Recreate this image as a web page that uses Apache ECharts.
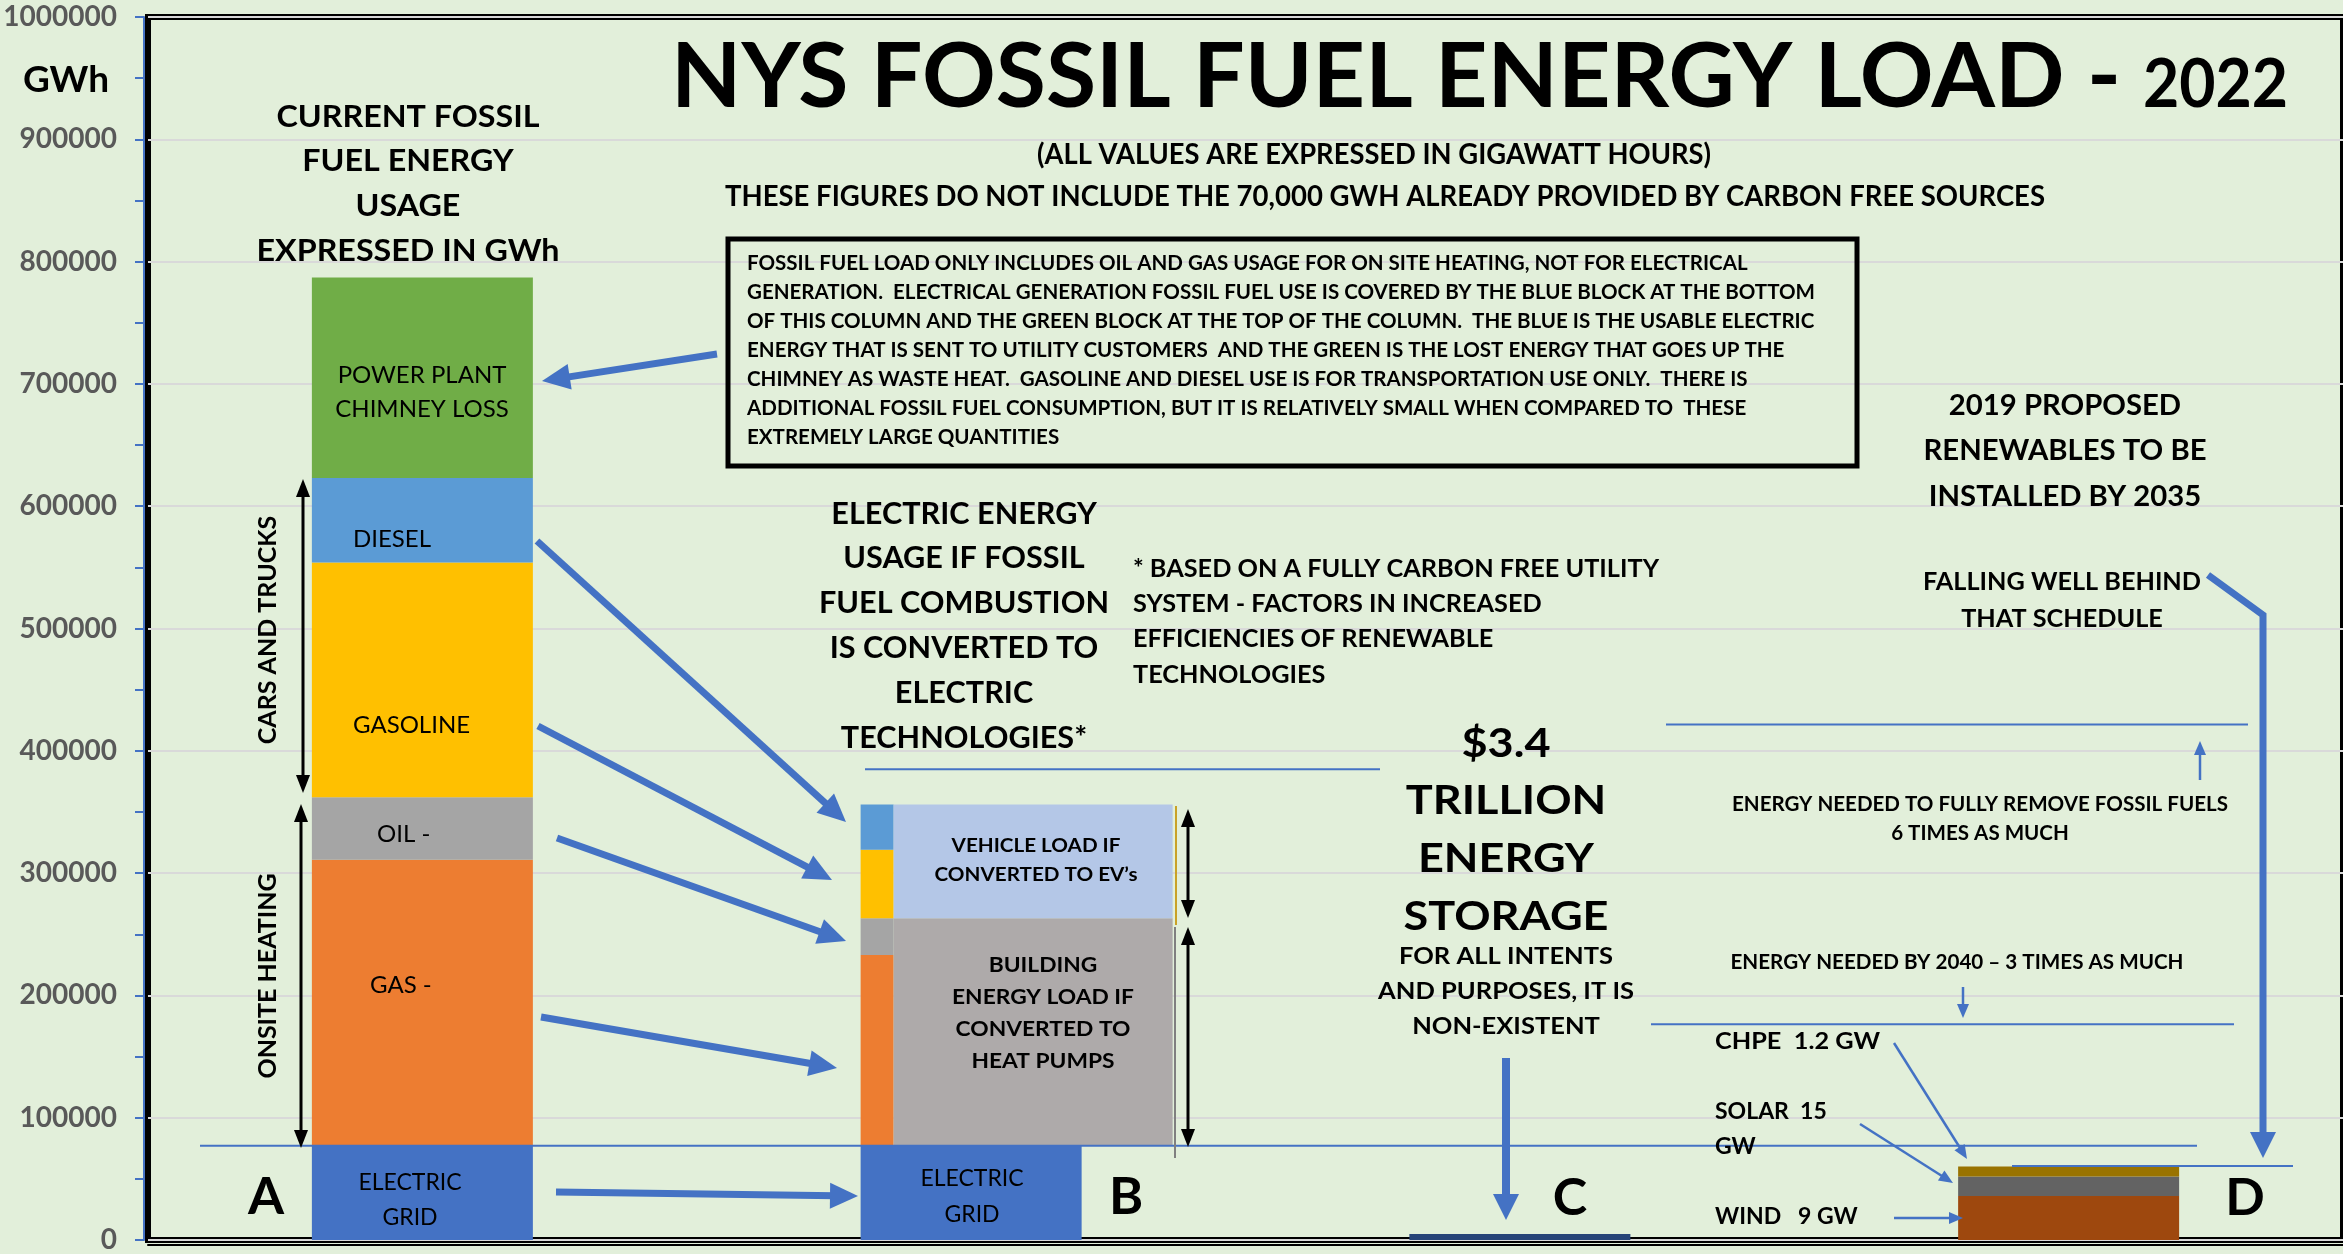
<!DOCTYPE html>
<html>
<head>
<meta charset="utf-8">
<style>
  html, body { margin: 0; padding: 0; background: #E2EFDA; }
  #chart { width: 2343px; height: 1254px; }
</style>
</head>
<body>
<div id="chart"></div>
<script src="https://cdn.jsdelivr.net/npm/echarts@6/dist/echarts.min.js"></script>
<script>
// columns: A = today's fossil load, B = converted electric load, C = storage, D = 2035 renewables
var columns = ['A', 'B', 'C', 'D'];

// stacked values in GWh
var electricGrid = [77000, 77000, null, null];
var gasHeating = [234000, null, null, null];
var oilHeating = [51000, null, null, null];
var gasoline = [192000, null, null, null];
var diesel = [69000, null, null, null];
var chimneyLoss = [164000, null, null, null];
var storage = [null, null, 5000, null];
var wind = [null, null, null, 36000];
var solar = [null, null, null, 16000];
var chpe = [null, null, null, 8000];

// column B: fuels after conversion to electric (stacked on the grid block)
var convertedNames = ['GAS', 'OIL', 'GASOLINE', 'DIESEL'];
var convertedValues = [156000, 30000, 56000, 37000];
var convertedColors = ['#ED7D31', '#A5A5A5', '#FFC000', '#5B9BD5'];
// building load = gas + oil, vehicle load = gasoline + diesel
var loadNames = ['BUILDING', 'VEHICLE'];
var loadValues = [186000, 93000];
var loadColors = ['#AEAAAA', '#B4C7E7'];

// blue guide levels (GWh)
var levelGrid = 77000;
var levelConverted = 385000;
var levelFull = 421600;
var level2040 = 176500;
var level2035 = 60500;

var BAR_W = 221;
var FONT = 'Lato, "Open Sans", sans-serif';

var chart = echarts.init(document.getElementById('chart'));

// build custom items for column B
var bItems = [];
var base = electricGrid[1];
for (var i = 0; i < convertedValues.length; i++) {
    bItems.push({ name: convertedNames[i], value: [1, base, base + convertedValues[i], 0], itemStyle: { color: convertedColors[i] } });
    base += convertedValues[i];
}
base = electricGrid[1];
for (var j = 0; j < loadValues.length; j++) {
    bItems.push({ name: loadNames[j], value: [1, base, base + loadValues[j], 1], itemStyle: { color: loadColors[j] } });
    base += loadValues[j];
}

function barSeries(name, data, color) {
    return {
        name: name, type: 'bar', stack: 'total', data: data, barWidth: BAR_W,
        itemStyle: { color: color }, silent: true
    };
}

var option = {
    backgroundColor: '#E2EFDA',
    animation: false,
    grid: { left: 148, right: -8, top: 17, bottom: 13, show: true, borderColor: '#000', borderWidth: 6 },
    xAxis: {
        type: 'category', data: columns,
        axisLabel: { show: false }, axisTick: { show: false },
        axisLine: { show: true, onZero: false, lineStyle: { color: '#000', width: 2 } }, offset: 5
    },
    yAxis: {
        type: 'value', min: 0, max: 1000000, interval: 100000, offset: 4,
        axisLine: { show: true, lineStyle: { color: '#4472C4', width: 2 } },
        axisTick: { show: true, length: 9, lineStyle: { color: '#4472C4', width: 2 } },
        minorTick: { show: true, splitNumber: 2, length: 9, lineStyle: { color: '#4472C4', width: 2 } },
        splitLine: { lineStyle: { color: '#D9D9D9', width: 2 } },
        axisLabel: {
            color: '#595959', fontWeight: 'bold', fontSize: 28, fontFamily: FONT, margin: 27,
            formatter: function (v) { return String(v); }
        }
    },
    series: [
        barSeries('ELECTRIC GRID', electricGrid, '#4472C4'),
        barSeries('GAS', gasHeating, '#ED7D31'),
        barSeries('OIL', oilHeating, '#A5A5A5'),
        barSeries('GASOLINE', gasoline, '#FFC000'),
        barSeries('DIESEL', diesel, '#5B9BD5'),
        barSeries('POWER PLANT CHIMNEY LOSS', chimneyLoss, '#70AD47'),
        barSeries('ENERGY STORAGE', storage, '#264478'),
        barSeries('WIND', wind, '#9E480E'),
        barSeries('SOLAR', solar, '#636363'),
        barSeries('CHPE', chpe, '#997300'),
        {
            name: 'CONVERTED', type: 'custom', silent: true,
            encode: { x: 0, y: [1, 2] },
            data: bItems,
            renderItem: function (params, api) {
                var top = api.coord([api.value(0), api.value(2)]);
                var bot = api.coord([api.value(0), api.value(1)]);
                var left = top[0] - BAR_W / 2;
                var strip = 33;
                var x = api.value(3) === 0 ? left : left + strip;
                var w = api.value(3) === 0 ? strip : 279;
                return {
                    type: 'rect',
                    shape: { x: x, y: top[1], width: w, height: bot[1] - top[1] },
                    style: { fill: api.visual('color') }
                };
            }
        }
    ]
};
chart.setOption(option);

// ---------- annotations ----------
var ctx = document.createElement('canvas').getContext('2d');
function widest(str, font) {
    ctx.font = font;
    return Math.max.apply(null, str.split('\n').map(function (s) { return ctx.measureText(s).width; }));
}
function txt(str, x, y, size, opt) {
    opt = opt || {};
    var font = (opt.weight || 'bold') + ' ' + size + 'px ' + FONT;
    var sx = opt.width ? opt.width / widest(str, font) : 1;
    return {
        type: 'text', x: x, y: y, z: 100, rotation: opt.rot || 0,
        scaleX: opt.rot ? 1 : sx,
        style: {
            text: str, font: font, fill: opt.color || '#000',
            align: opt.align || 'center', verticalAlign: 'middle',
            textAlign: opt.align || 'center', textVerticalAlign: 'middle',
            lineHeight: opt.lh || Math.round(size * 1.2)
        }
    };
}
function head(x1, y1, x2, y2, hl, hw, color) {
    var a = Math.atan2(y2 - y1, x2 - x1), c = Math.cos(a), s = Math.sin(a);
    var bx = x2 - hl * c, by = y2 - hl * s;
    return { type: 'polygon', z: 90, shape: { points: [[x2, y2], [bx - s * hw / 2, by + c * hw / 2], [bx + s * hw / 2, by - c * hw / 2]] }, style: { fill: color } };
}
function arrow(x1, y1, x2, y2, w, hl, hw, color, both) {
    var a = Math.atan2(y2 - y1, x2 - x1), c = Math.cos(a), s = Math.sin(a);
    var sx = both ? x1 + hl * c * 0.8 : x1, sy = both ? y1 + hl * s * 0.8 : y1;
    var out = [
        { type: 'line', z: 90, shape: { x1: sx, y1: sy, x2: x2 - hl * c * 0.8, y2: y2 - hl * s * 0.8 }, style: { stroke: color, lineWidth: w } },
        head(x1, y1, x2, y2, hl, hw, color)
    ];
    if (both) out.push(head(x2, y2, x1, y1, hl, hw, color));
    return out;
}
function hline(v, x1, x2, color, w) {
    var y = chart.convertToPixel({ yAxisIndex: 0 }, v);
    return { type: 'line', z: 80, shape: { x1: x1, y1: y, x2: x2, y2: y }, style: { stroke: color || '#4472C4', lineWidth: w || 2 } };
}

var BLUE = '#4472C4';
var g = [];

// guide lines
g.push(hline(levelGrid, 200, 2197));
g.push(hline(levelConverted, 865, 1380));
g.push(hline(levelFull, 1666, 2248));
g.push(hline(level2040, 1651, 2234));
g.push(hline(level2035, 2012, 2293));
g.push({ type: 'line', z: 80, shape: { x1: 1176, y1: 806, x2: 1176, y2: 925 }, style: { stroke: '#C9A227', lineWidth: 2 } });
g.push({ type: 'line', z: 80, shape: { x1: 1175, y1: 927, x2: 1175, y2: 1158 }, style: { stroke: '#808080', lineWidth: 2 } });

// titles
g.push(txt('NYS FOSSIL FUEL ENERGY LOAD -', 671, 78, 90, { align: 'left', width: 1450 }));
g.push(txt('2022', 2143, 86, 66, { align: 'left', width: 145 }));
g.push(txt('(ALL VALUES ARE EXPRESSED IN GIGAWATT HOURS)', 1374, 155, 28, { width: 674 }));
g.push(txt('THESE FIGURES DO NOT INCLUDE THE 70,000 GWH ALREADY PROVIDED BY CARBON FREE SOURCES', 1385, 197, 28, { width: 1320 }));
g.push(txt('GWh', 66, 80, 37));
g.push(txt('CURRENT FOSSIL\nFUEL ENERGY\nUSAGE\nEXPRESSED IN GWh', 408, 184, 30, { lh: 44.7, width: 303 }));

// note box
g.push({ type: 'rect', z: 85, shape: { x: 728, y: 239, width: 1129, height: 227 }, style: { fill: 'rgba(0,0,0,0)', stroke: '#000', lineWidth: 5 } });
g.push(txt('FOSSIL FUEL LOAD ONLY INCLUDES OIL AND GAS USAGE FOR ON SITE HEATING, NOT FOR ELECTRICAL\n' +
    'GENERATION.  ELECTRICAL GENERATION FOSSIL FUEL USE IS COVERED BY THE BLUE BLOCK AT THE BOTTOM\n' +
    'OF THIS COLUMN AND THE GREEN BLOCK AT THE TOP OF THE COLUMN.  THE BLUE IS THE USABLE ELECTRIC\n' +
    'ENERGY THAT IS SENT TO UTILITY CUSTOMERS  AND THE GREEN IS THE LOST ENERGY THAT GOES UP THE\n' +
    'CHIMNEY AS WASTE HEAT.  GASOLINE AND DIESEL USE IS FOR TRANSPORTATION USE ONLY.  THERE IS\n' +
    'ADDITIONAL FOSSIL FUEL CONSUMPTION, BUT IT IS RELATIVELY SMALL WHEN COMPARED TO  THESE\n' +
    'EXTREMELY LARGE QUANTITIES', 747, 350, 20.5, { align: 'left', lh: 29, width: 1068 }));

// column A labels
g.push(txt('POWER PLANT\nCHIMNEY LOSS', 422, 392, 24, { weight: 'normal', lh: 34 }));
g.push(txt('DIESEL', 353, 539, 24, { weight: 'normal', align: 'left' }));
g.push(txt('GASOLINE', 353, 725, 24, { weight: 'normal', align: 'left' }));
g.push(txt('OIL -', 377, 834, 24, { weight: 'normal', align: 'left' }));
g.push(txt('GAS -', 370, 985, 24, { weight: 'normal', align: 'left' }));
g.push(txt('ELECTRIC\nGRID', 410, 1200, 23, { weight: 'normal', lh: 35 }));
g.push(txt('CARS AND TRUCKS', 268, 630, 25, { rot: Math.PI / 2 }));
g.push(txt('ONSITE HEATING', 268, 976, 25, { rot: Math.PI / 2 }));
g.push(txt('A', 266, 1197, 52));

// column B labels
g.push(txt('ELECTRIC ENERGY\nUSAGE IF FOSSIL\nFUEL COMBUSTION\nIS CONVERTED TO\nELECTRIC\nTECHNOLOGIES*', 964, 626, 30, { lh: 44.8, width: 290 }));
g.push(txt('* BASED ON A FULLY CARBON FREE UTILITY\nSYSTEM - FACTORS IN INCREASED\nEFFICIENCIES OF RENEWABLE\nTECHNOLOGIES', 1133, 622, 24, { align: 'left', lh: 35.3, width: 526 }));
g.push(txt("VEHICLE LOAD IF\nCONVERTED TO EV\u2019s", 1036, 860, 19.5, { lh: 29, width: 203 }));
g.push(txt('BUILDING\nENERGY LOAD IF\nCONVERTED TO\nHEAT PUMPS', 1043, 1013, 21, { lh: 32, width: 182 }));
g.push(txt('ELECTRIC\nGRID', 972, 1197, 23, { weight: 'normal', lh: 36 }));
g.push(txt('B', 1126, 1197, 52));

// column C labels
g.push(txt('$3.4\nTRILLION\nENERGY\nSTORAGE', 1506, 830, 41, { lh: 57.7, width: 205 }));
g.push(txt('FOR ALL INTENTS\nAND PURPOSES, IT IS\nNON-EXISTENT', 1506, 992, 23, { lh: 35, width: 256 }));
g.push(txt('C', 1570, 1198, 52));

// column D labels
g.push(txt('2019 PROPOSED\nRENEWABLES TO BE\nINSTALLED BY 2035', 2065, 451, 29, { lh: 45.5, width: 283 }));
g.push(txt('FALLING WELL BEHIND\nTHAT SCHEDULE', 2062, 601, 24, { lh: 37, width: 278 }));
g.push(txt('ENERGY NEEDED TO FULLY REMOVE FOSSIL FUELS\n6 TIMES AS MUCH', 1980, 819, 20, { lh: 29, width: 496 }));
g.push(txt('ENERGY NEEDED BY 2040 \u2013 3 TIMES AS MUCH', 1957, 963, 20, { width: 453 }));
g.push(txt('CHPE  1.2 GW', 1715, 1042, 23, { align: 'left', width: 165 }));
g.push(txt('SOLAR  15\nGW', 1715, 1129, 23, { align: 'left', lh: 35 }));
g.push(txt('WIND   9 GW', 1715, 1217, 23, { align: 'left' }));
g.push(txt('D', 2245, 1198, 52));

// thick blue arrows
[[717, 354, 542, 381], [537, 541, 846, 822], [538, 726, 832, 880], [557, 838, 846, 941],
 [541, 1017, 837, 1068], [556, 1192, 858, 1196]].forEach(function (p) {
    g = g.concat(arrow(p[0], p[1], p[2], p[3], 7, 28, 26, BLUE));
});
g = g.concat(arrow(1506, 1058, 1506, 1220, 8, 26, 26, BLUE));
g.push({ type: 'polyline', z: 90, shape: { points: [[2208, 575], [2263, 615], [2263, 1140]] }, style: { stroke: BLUE, lineWidth: 7 } });
g.push(head(2263, 1100, 2263, 1158, 26, 26, BLUE));

// thin blue arrows
[[2200, 780, 2200, 741], [1963, 987, 1963, 1018], [1894, 1043, 1967, 1159],
 [1860, 1124, 1953, 1183], [1894, 1218, 1963, 1218]].forEach(function (p) {
    g = g.concat(arrow(p[0], p[1], p[2], p[3], 2.5, 14, 12, BLUE));
});

// black double arrows
[[303, 479, 303, 793], [301, 804, 301, 1148], [1188, 809, 1188, 918], [1188, 927, 1188, 1147]].forEach(function (p) {
    g = g.concat(arrow(p[0], p[1], p[2], p[3], 3, 18, 14, '#000', true));
});

chart.setOption({ graphic: g });
</script>
</body>
</html>
